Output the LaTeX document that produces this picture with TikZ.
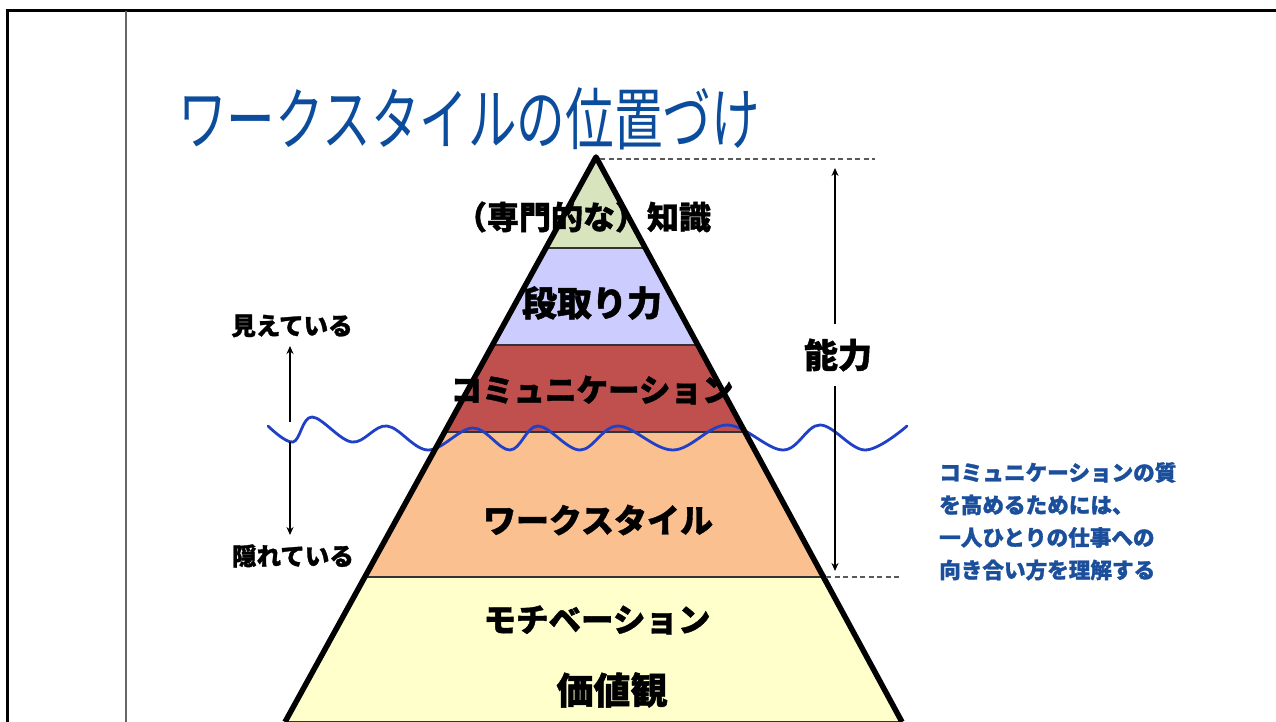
\documentclass[tikz,border=0pt]{standalone}
\usepackage{fontspec}
\newfontfamily\jp[BoldFeatures={FakeBold=1.2}]{Noto Sans CJK JP}
\usetikzlibrary{calc,arrows.meta}
\definecolor{cgreen}{HTML}{D7E4BD}
\definecolor{clav}{HTML}{CCCCFF}
\definecolor{cred}{HTML}{C0504D}
\definecolor{corange}{HTML}{FAC090}
\definecolor{cyellow}{HTML}{FFFFCC}
\definecolor{cwave}{HTML}{2040C8}
\definecolor{ctitle}{HTML}{0B4C9C}
\definecolor{cnote}{HTML}{1B4F9C}
\tikzset{
  layer/.style={draw=black!80, line width=1.5pt},
  lbl/.style={inner sep=0pt, font=\jp\bfseries\fontsize{#1}{#1}\selectfont, text=black},
  dim/.style={draw=black, line width=2pt, -{Stealth[length=8pt,width=7pt]}},
  guide/.style={draw=black!65, line width=1.2pt, dash pattern=on 5pt off 3.5pt},
}
\begin{document}
\begin{tikzpicture}[x=1pt,y=-1pt]
\useasboundingbox (0,0) rectangle (1276,722);
\fill[white] (0,0) rectangle (1276,722);
% frame
\draw[line width=3pt] (7.5,722) -- (7.5,11) -- (1276,11);
\draw[black!60, line width=1.8pt] (126,11) -- (126,722);
% title
\node[inner sep=0pt, text=ctitle, font=\jp\fontsize{68}{68}\selectfont] (title) at (469,119) {\scalebox{0.715}[1]{ワークスタイルの位置づけ}};
% pyramid coordinates
\coordinate (A) at (596,157);
\coordinate (BL) at (285,722);
\coordinate (BR) at (902,722);
\coordinate (L1) at ($(A)!0.161!(BL)$);  \coordinate (R1) at ($(A)!0.161!(BR)$);
\coordinate (L2) at ($(A)!0.3327!(BL)$); \coordinate (R2) at ($(A)!0.3327!(BR)$);
\coordinate (L3) at ($(A)!0.4867!(BL)$); \coordinate (R3) at ($(A)!0.4867!(BR)$);
\coordinate (L4) at ($(A)!0.7434!(BL)$); \coordinate (R4) at ($(A)!0.7434!(BR)$);
\fill[cgreen] (A) -- (L1) -- (R1) -- cycle;
\fill[clav] (L1) -- (L2) -- (R2) -- (R1) -- cycle;
\fill[cred] (L2) -- (L3) -- (R3) -- (R2) -- cycle;
\fill[corange] (L3) -- (L4) -- (R4) -- (R3) -- cycle;
\fill[cyellow] (L4) -- (BL) -- (BR) -- (R4) -- cycle;
\draw[layer] (L1) -- (R1) (L2) -- (R2) (L3) -- (R3) (L4) -- (R4) (BL) -- (BR);
% wave
\draw[cwave, line width=2.8pt, line cap=round] plot[smooth, tension=0.6] coordinates {
 (268,426) (293,442) (312,417) (352,442) (387,426) (428,450) (473,428) (510,450)
 (538,426) (580,450) (618,426) (673,450) (727,425) (783,450) (820,425) (865,450) (907,426)};
% pyramid sides
\draw[line width=5.5pt, line join=round] (BL) -- (A) -- (BR);
% guides
\coordinate (gt1) at (600,159); \coordinate (gt2) at (875,159);
\coordinate (gb1) at (826,577); \coordinate (gb2) at (900,577);
\draw[guide] (gt1) -- (gt2);
\draw[guide] (gb1) -- (gb2);
% labels in pyramid
\node[lbl=32] (k1) at (583,217) {（専門的な）知識};
\node[lbl=35] (k2) at (592,303) {段取り力};
\node[lbl=31.5] (k3) at (592,390) {コミュニケーション};
\node[lbl=33] (k4) at (598,520) {ワークスタイル};
\node[lbl=32.5] (k5) at (597,620) {モチベーション};
\node[lbl=37] (k6) at (612,690) {価値観};
% ability
\node[lbl=34, outer sep=15pt] (nou) at (838,355) {能力};
\coordinate (nt) at (835,168);
\coordinate (nb) at (835,571);
\draw[dim] (nou.north -| nt) -- (nt);
\draw[dim] (nou.south -| nb) -- (nb);
% visible / hidden
\node[lbl=24.5] (mie) at (292,326) {見えている};
\node[lbl=24.5] (kak) at (293,556) {隠れている};
\coordinate (v1) at (290,422); \coordinate (v2) at (290,346);
\coordinate (h1) at (290,442); \coordinate (h2) at (290,535);
\draw[dim] (v1) -- (v2);
\draw[dim] (h1) -- (h2);
% note
\node[inner sep=0pt, anchor=north west, align=left, text=cnote, font=\jp\bfseries\fontsize{21.6}{32.5}\selectfont] (note) at (939,462)
 {コミュニケーションの質\\を高めるためには、\\一人ひとりの仕事への\\向き合い方を理解する};
\end{tikzpicture}
\end{document}
